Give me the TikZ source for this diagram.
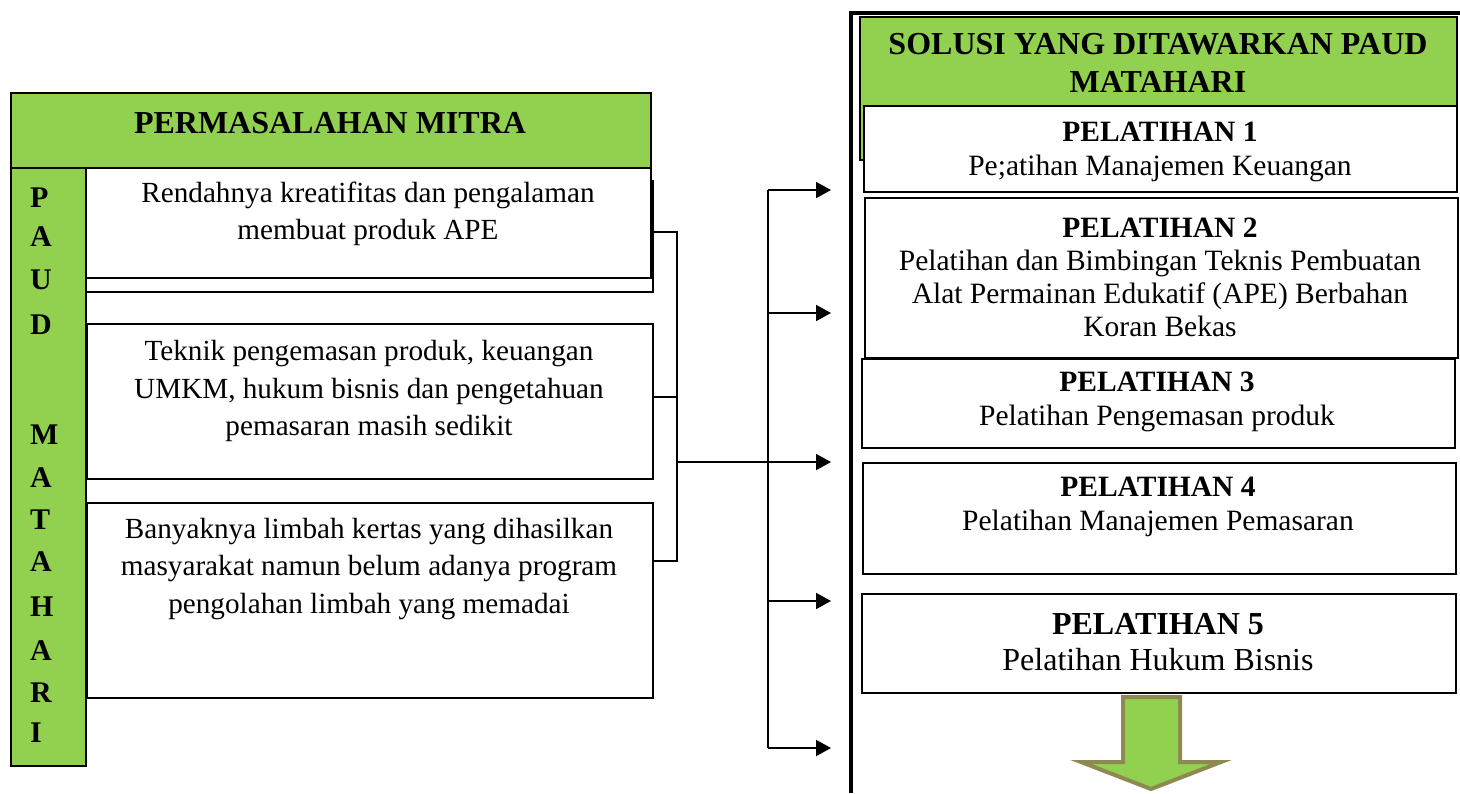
\documentclass[tikz,border=0pt]{standalone}
\usepackage{fontspec}
\setmainfont{Liberation Serif}
\usetikzlibrary{arrows.meta,positioning}
\definecolor{hijau}{HTML}{92D050}
\definecolor{zaitun}{HTML}{8C8A50}

\begin{document}
\begin{tikzpicture}[x=1pt, y=-1pt,
	kotak/.style={draw, line width=1.5pt, fill=white, anchor=north west, inner sep=0pt},
	judul/.style={draw, line width=1.5pt, fill=hijau, anchor=north west, inner sep=0pt},
	isi/.style={align=center, inner sep=0pt, font=\fontsize{29.2}{37.5}\selectfont},
	isikanan/.style={align=center, inner sep=0pt, font=\fontsize{29.5}{34}\selectfont},
	tebal/.style={align=center, inner sep=0pt, font=\fontsize{32}{38}\selectfont\bfseries},
	huruf/.style={anchor=west, inner sep=0pt, font=\fontsize{30}{30}\selectfont\bfseries},
	garis/.style={line width=1.5pt},
	panah/.style={line width=2pt, -{Triangle[length=15pt,width=16pt]}}]
		\useasboundingbox (0,0) rectangle (1460,793);

		\node [judul, minimum width=640pt, minimum height=75pt] (hdrkiri) at (10,92) {};
		\node [tebal] (tkiri) at (330,123) {PERMASALAHAN MITRA};
		\node [judul, minimum width=75pt, minimum height=598pt] (kolom) at (10,167) {};
		\foreach \h/\yy in {P/198, A/237, U/280, D/325, M/435, A/478, T/520, A/562, H/607, A/651, R/693, I/733}
			\node [huruf] (h\yy) at (30,\yy) {\h};

		\node [kotak, minimum width=567pt, minimum height=111pt] (m1b) at (85,180) {};
		\node [kotak, minimum width=565pt, minimum height=110pt] (m1) at (85,167) {};
		\node [isi] (tm1) at (368,214) {Rendahnya kreatifitas dan pengalaman\\membuat produk APE};
		\node [kotak, minimum width=566pt, minimum height=155pt] (m2) at (86,323) {};
		\node [isi] (tm2) at (369,391) {Teknik pengemasan produk, keuangan\\UMKM, hukum bisnis dan pengetahuan\\pemasaran masih sedikit};
		\node [kotak, minimum width=566pt, minimum height=195pt] (m3) at (86,502) {};
		\node [isi] (tm3) at (369,569) {Banyaknya limbah kertas yang dihasilkan\\masyarakat namun belum adanya program\\pengolahan limbah yang memadai};

		\coordinate (k1) at (677,232);
		\coordinate (k2) at (677,397);
		\coordinate (kj) at (677,462);
		\coordinate (k3) at (677,561);
		\draw [garis] (m1.east |- k1) -- (k1) -- (k3) -- (m3.east |- k3);
		\draw [garis] (m2.east |- k2) -- (k2);
		\coordinate (busatas) at (768,190);
		\coordinate (busbawah) at (768,748);
		\draw [garis] (kj) -- (kj -| busatas);
		\draw [garis] (busatas) -- (busbawah);
		\foreach \yy in {190,313,462,601,748} {
			\coordinate (p\yy) at (768,\yy);
			\coordinate (u\yy) at (831,\yy);
			\draw [panah] (p\yy) -- (u\yy);
		}

		\coordinate (sudut) at (851,13);
		\draw [line width=4.5pt] (851,793) -- (sudut) -- (1460,13);
		\node [judul, minimum width=597pt, minimum height=143pt] (hdrkanan) at (859,16) {};
		\node [tebal] (tkanan) at (1158,63) {SOLUSI YANG DITAWARKAN PAUD\\MATAHARI};

		\node [kotak, minimum width=593pt, minimum height=86pt] (pel1) at (863,105) {};
		\node [isikanan] (tp1) at (1160,152) {\textbf{PELATIHAN 1}\\Pe;atihan Manajemen Keuangan};
		\node [kotak, minimum width=593pt, minimum height=160pt] (pel2) at (864,197) {};
		\node [isikanan, font=\fontsize{29.5}{33}\selectfont] (tp2) at (1160,277) {\textbf{PELATIHAN 2}\\Pelatihan dan Bimbingan Teknis Pembuatan\\Alat Permainan Edukatif (APE) Berbahan\\Koran Bekas};
		\node [kotak, minimum width=593pt, minimum height=89pt] (pel3) at (861,358) {};
		\node [isikanan] (tp3) at (1157,402) {\textbf{PELATIHAN 3}\\Pelatihan Pengemasan produk};
		\node [kotak, minimum width=593pt, minimum height=111pt] (pel4) at (862,462) {};
		\node [isikanan] (tp4) at (1158,507) {\textbf{PELATIHAN 4}\\Pelatihan Manajemen Pemasaran};
		\node [kotak, minimum width=594pt, minimum height=99pt] (pel5) at (861,593) {};
		\node [isikanan, font=\fontsize{32}{36}\selectfont] (tp5) at (1158,642) {\textbf{PELATIHAN 5}\\Pelatihan Hukum Bisnis};

		\draw [fill=hijau, draw=zaitun, line width=4pt] (1123,697) -- (1180,697) -- (1180,762) -- (1221,762) -- (1151,789) -- (1081,762) -- (1123,762) -- cycle;
\end{tikzpicture}
\end{document}
